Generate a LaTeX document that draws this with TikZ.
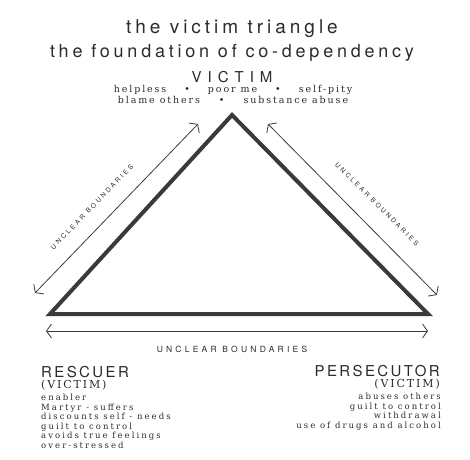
\documentclass[tikz,border=0pt]{standalone}
\usepackage{fontspec}
\setmainfont{DejaVu Serif}
\setsansfont{TeX Gyre Heros}
\usepackage{tikz}
\usetikzlibrary{arrows.meta}
\definecolor{InkGray}{HTML}{2B2B2B}
\definecolor{EdgeGray}{HTML}{3A3A3A}

\begin{document}
\begin{tikzpicture}[x=1pt,y=-1pt,
  every node/.style={inner sep=0pt,text=InkGray},
  bound/.style={{Straight Barb[length=5pt,width=14pt]}-{Straight Barb[length=5pt,width=14pt]},EdgeGray,line width=.8pt},
  headtxt/.style={font=\sffamily\addfontfeature{LetterSpace=21}\fontsize{#1}{20}\selectfont},
  roletxt/.style={font=\sffamily\addfontfeature{LetterSpace=16}\fontsize{15}{17}\selectfont},
  bndtxt/.style={font=\sffamily\addfontfeature{LetterSpace=38}\fontsize{#1}{#1}\selectfont},
  subtxt/.style={font=\rmfamily\addfontfeature{LetterSpace=17}\fontsize{11}{13}\selectfont},
  traittxt/.style={font=\rmfamily\addfontfeature{LetterSpace=24}\fontsize{8.5}{9.5}\selectfont}]
\useasboundingbox (0,0) rectangle (470,459);
% headings
\node[headtxt=19,anchor=base] (title) at (232,33) {the victim triangle};
\node[headtxt=18,anchor=base] (subtitle) at (232,57) {the foundation of co-dependency};
\node[font=\sffamily\addfontfeature{LetterSpace=40}\fontsize{15}{17}\selectfont,anchor=base] (victim) at (232,82) {VICTIM};
\node[font=\rmfamily\addfontfeature{LetterSpace=20}\fontsize{9.5}{10.5}\selectfont,align=center,anchor=base] (victimtraits) at (233,103) {helpless\hspace{18pt}•\hspace{18pt}poor me\hspace{18pt}•\hspace{18pt}self-pity\\blame others\hspace{19pt}•\hspace{19pt}substance abuse};
% triangle
\coordinate (apex) at (232,115);
\coordinate (lcorner) at (50,314);
\coordinate (rcorner) at (428,314);
\draw[EdgeGray,line width=4pt,line join=miter] (apex)--(rcorner)--(lcorner)--cycle;
% boundaries
\coordinate (larrA) at (35,293); \coordinate (larrB) at (198,124);
\coordinate (rarrA) at (268,124); \coordinate (rarrB) at (437,295);
\coordinate (barrA) at (46,331); \coordinate (barrB) at (428,331);
\draw[bound] (larrA)--(larrB);\draw[bound] (rarrA)--(rarrB);\draw[bound] (barrA)--(barrB);
\node[bndtxt=6.5,rotate=46] (lbound) at (92,207) {UNCLEAR BOUNDARIES};
\node[bndtxt=6.5,rotate=-45] (rbound) at (377,204) {UNCLEAR BOUNDARIES};
\node[bndtxt=8.5,anchor=base] (bbound) at (232,352) {UNCLEAR BOUNDARIES};
% rescuer
\node[roletxt,anchor=base west] (rescuer) at (41,377) {RESCUER};
\node[subtxt,anchor=base west] (rvictim) at (41,388) {(VICTIM)};
\node[traittxt,align=left,anchor=base west] (rtraits) at (41,448) {enabler\\Martyr - suffers\\discounts self - needs\\guilt to control\\avoids true feelings\\over-stressed};
% persecutor
\node[roletxt,anchor=base east] (persecutor) at (440,376) {PERSECUTOR};
\node[subtxt,anchor=base east] (pvictim) at (440,387) {(VICTIM)};
\node[traittxt,align=right,anchor=base east] (ptraits) at (441,428) {abuses others\\guilt to control\\withdrawal\\use of drugs and alcohol};
\end{tikzpicture}
\end{document}
